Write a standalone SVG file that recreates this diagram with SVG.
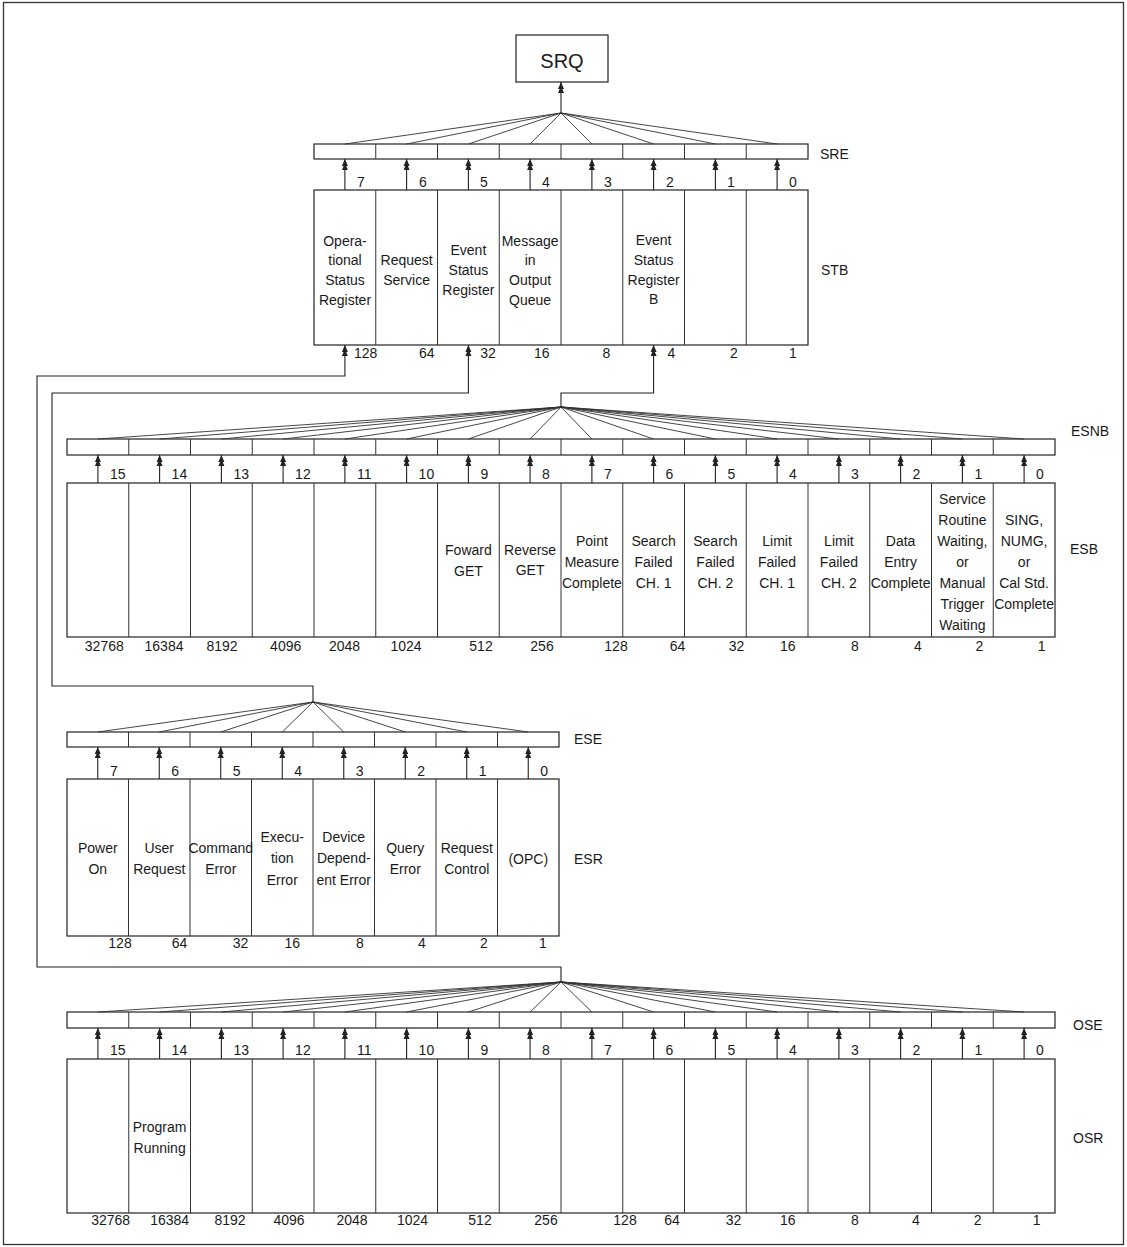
<svg xmlns="http://www.w3.org/2000/svg" width="1127" height="1247" viewBox="0 0 1127 1247">
<style>
.frame{fill:#fff;stroke:#333;stroke-width:1.3}
.box{fill:#fff;stroke:#222;stroke-width:1.2}
.div{stroke:#333;stroke-width:1;fill:none}
.ln{stroke:#222;stroke-width:1.1;fill:none}
.fan{stroke:#333;stroke-width:0.9;fill:none}
.arr{stroke:#222;stroke-width:1.1;fill:none;marker-end:url(#ah)}
.t{font-family:"Liberation Sans",Arial,Helvetica,sans-serif;font-size:14px;fill:#1a1a1a}
.m{text-anchor:middle}
.big{font-size:20px}
</style>
<defs>
<marker id="ah" viewBox="0 -3.5 11 7" refX="11" refY="0" markerWidth="11" markerHeight="7" markerUnits="userSpaceOnUse" orient="auto">
<path d="M11,0 L4,-3 L4,3 Z M7,0 L0,-3 L0,3 Z" fill="#222"/>
</marker>
</defs>
<rect class="frame" x="3.5" y="2.5" width="1120" height="1242"/>

<g id="SRQ">
<rect class="box" x="516" y="35" width="92" height="47"/>
<text class="t m big" x="562" y="68">SRQ</text>
</g>

<g id="SRE">
<rect class="box" x="314" y="144" width="494" height="15"/>
<path class="div" d="M375.75 144V159M437.5 144V159M499.25 144V159M561 144V159M622.75 144V159M684.5 144V159M746.25 144V159"/>
<text class="t" x="820" y="159">SRE</text>
<g class="t">
<text x="357" y="187">7</text><text x="419" y="187">6</text><text x="480" y="187">5</text><text x="542" y="187">4</text>
<text x="604" y="187">3</text><text x="666" y="187">2</text><text x="727" y="187">1</text><text x="789" y="187">0</text>
</g>
</g>

<g id="STB">
<rect class="box" x="314" y="190" width="494" height="155"/>
<path class="div" d="M375.75 190V345M437.5 190V345M499.25 190V345M561 190V345M622.75 190V345M684.5 190V345M746.25 190V345"/>
<g class="t m">
<text x="345" y="246">Opera-</text><text x="345" y="265">tional</text><text x="345" y="285">Status</text><text x="345" y="305">Register</text>
<text x="406.6" y="265">Request</text><text x="406.6" y="285">Service</text>
<text x="468.4" y="255">Event</text><text x="468.4" y="275">Status</text><text x="468.4" y="295">Register</text>
<text x="530.1" y="246">Message</text><text x="530.1" y="265">in</text><text x="530.1" y="285">Output</text><text x="530.1" y="305">Queue</text>
<text x="653.6" y="245">Event</text><text x="653.6" y="265">Status</text><text x="653.6" y="285">Register</text><text x="653.6" y="304">B</text>
<text x="365.7" y="358">128</text><text x="426.8" y="358">64</text><text x="488" y="358">32</text><text x="541.8" y="358">16</text>
<text x="606.4" y="358">8</text><text x="671.4" y="358">4</text><text x="734" y="358">2</text><text x="792.9" y="358">1</text>
</g>
<text class="t" x="821" y="275">STB</text>
</g>

<g id="ESNB">
<rect class="box" x="67" y="439" width="988" height="16"/>
<path class="div" d="M128.75 439V455M190.5 439V455M252.25 439V455M314 439V455M375.75 439V455M437.5 439V455M499.25 439V455M561 439V455M622.75 439V455M684.5 439V455M746.25 439V455M808 439V455M869.75 439V455M931.5 439V455M993.25 439V455"/>
<text class="t" x="1071" y="436">ESNB</text>
<g class="t">
<text x="110" y="479">15</text><text x="171.6" y="479">14</text><text x="233.4" y="479">13</text><text x="295.1" y="479">12</text>
<text x="356.9" y="479">11</text><text x="418.6" y="479">10</text><text x="480.4" y="479">9</text><text x="542.1" y="479">8</text>
<text x="603.9" y="479">7</text><text x="665.6" y="479">6</text><text x="727.4" y="479">5</text><text x="789.1" y="479">4</text>
<text x="850.9" y="479">3</text><text x="912.6" y="479">2</text><text x="974.4" y="479">1</text><text x="1036.1" y="479">0</text>
</g>
</g>

<g id="ESB">
<rect class="box" x="67" y="483" width="988" height="154"/>
<path class="div" d="M128.75 483V637M190.5 483V637M252.25 483V637M314 483V637M375.75 483V637M437.5 483V637M499.25 483V637M561 483V637M622.75 483V637M684.5 483V637M746.25 483V637M808 483V637M869.75 483V637M931.5 483V637M993.25 483V637"/>
<g class="t m">
<text x="468.4" y="555">Foward</text><text x="468.4" y="576">GET</text>
<text x="530.1" y="555">Reverse</text><text x="530.1" y="575">GET</text>
<text x="591.9" y="546">Point</text><text x="591.9" y="567">Measure</text><text x="591.9" y="588">Complete</text>
<text x="653.6" y="546">Search</text><text x="653.6" y="567">Failed</text><text x="653.6" y="588">CH. 1</text>
<text x="715.4" y="546">Search</text><text x="715.4" y="567">Failed</text><text x="715.4" y="588">CH. 2</text>
<text x="777.1" y="546">Limit</text><text x="777.1" y="567">Failed</text><text x="777.1" y="588">CH. 1</text>
<text x="838.9" y="546">Limit</text><text x="838.9" y="567">Failed</text><text x="838.9" y="588">CH. 2</text>
<text x="900.6" y="546">Data</text><text x="900.6" y="567">Entry</text><text x="900.6" y="588">Complete</text>
<text x="962.4" y="504">Service</text><text x="962.4" y="525">Routine</text><text x="962.4" y="546">Waiting,</text><text x="962.4" y="567">or</text><text x="962.4" y="588">Manual</text><text x="962.4" y="609">Trigger</text><text x="962.4" y="630">Waiting</text>
<text x="1024.1" y="525">SING,</text><text x="1024.1" y="546">NUMG,</text><text x="1024.1" y="567">or</text><text x="1024.1" y="588">Cal Std.</text><text x="1024.1" y="609">Complete</text>
<text x="104.3" y="651">32768</text><text x="164" y="651">16384</text><text x="222" y="651">8192</text><text x="285.7" y="651">4096</text>
<text x="344.6" y="651">2048</text><text x="406" y="651">1024</text><text x="481" y="651">512</text><text x="542" y="651">256</text>
<text x="616" y="651">128</text><text x="677.5" y="651">64</text><text x="736.5" y="651">32</text><text x="787.8" y="651">16</text>
<text x="854.8" y="651">8</text><text x="918" y="651">4</text><text x="979.5" y="651">2</text><text x="1041.7" y="651">1</text>
</g>
<text class="t" x="1070" y="554">ESB</text>
</g>

<g id="ESE">
<rect class="box" x="67" y="732" width="492" height="15"/>
<path class="div" d="M128.5 732V747M190 732V747M251.5 732V747M313 732V747M374.5 732V747M436 732V747M497.5 732V747"/>
<text class="t" x="574" y="744">ESE</text>
<g class="t">
<text x="110" y="776">7</text><text x="171.2" y="776">6</text><text x="232.7" y="776">5</text><text x="294.2" y="776">4</text>
<text x="355.7" y="776">3</text><text x="417.2" y="776">2</text><text x="478.7" y="776">1</text><text x="540.2" y="776">0</text>
</g>
</g>

<g id="ESR">
<rect class="box" x="67" y="779" width="492" height="157"/>
<path class="div" d="M128.5 779V936M190 779V936M251.5 779V936M313 779V936M374.5 779V936M436 779V936M497.5 779V936"/>
<g class="t m">
<text x="97.75" y="853">Power</text><text x="97.75" y="874">On</text>
<text x="159.25" y="853">User</text><text x="159.25" y="874">Request</text>
<text x="220.75" y="853">Command</text><text x="220.75" y="874">Error</text>
<text x="282.25" y="842">Execu-</text><text x="282.25" y="863">tion</text><text x="282.25" y="885">Error</text>
<text x="343.75" y="842">Device</text><text x="343.75" y="863">Depend-</text><text x="343.75" y="885">ent Error</text>
<text x="405.25" y="853">Query</text><text x="405.25" y="874">Error</text>
<text x="466.75" y="853">Request</text><text x="466.75" y="874">Control</text>
<text x="528.25" y="864">(OPC)</text>
<text x="120" y="948">128</text><text x="179.5" y="948">64</text><text x="240.5" y="948">32</text><text x="292.3" y="948">16</text>
<text x="360" y="948">8</text><text x="422" y="948">4</text><text x="484" y="948">2</text><text x="543" y="948">1</text>
</g>
<text class="t" x="574" y="864">ESR</text>
</g>

<g id="OSE">
<rect class="box" x="67" y="1012" width="988" height="16"/>
<path class="div" d="M128.75 1012V1028M190.5 1012V1028M252.25 1012V1028M314 1012V1028M375.75 1012V1028M437.5 1012V1028M499.25 1012V1028M561 1012V1028M622.75 1012V1028M684.5 1012V1028M746.25 1012V1028M808 1012V1028M869.75 1012V1028M931.5 1012V1028M993.25 1012V1028"/>
<text class="t" x="1073" y="1030">OSE</text>
<g class="t">
<text x="110" y="1055">15</text><text x="171.6" y="1055">14</text><text x="233.4" y="1055">13</text><text x="295.1" y="1055">12</text>
<text x="356.9" y="1055">11</text><text x="418.6" y="1055">10</text><text x="480.4" y="1055">9</text><text x="542.1" y="1055">8</text>
<text x="603.9" y="1055">7</text><text x="665.6" y="1055">6</text><text x="727.4" y="1055">5</text><text x="789.1" y="1055">4</text>
<text x="850.9" y="1055">3</text><text x="912.6" y="1055">2</text><text x="974.4" y="1055">1</text><text x="1036.1" y="1055">0</text>
</g>
</g>

<g id="OSR">
<rect class="box" x="67" y="1059" width="988" height="154"/>
<path class="div" d="M128.75 1059V1213M190.5 1059V1213M252.25 1059V1213M314 1059V1213M375.75 1059V1213M437.5 1059V1213M499.25 1059V1213M561 1059V1213M622.75 1059V1213M684.5 1059V1213M746.25 1059V1213M808 1059V1213M869.75 1059V1213M931.5 1059V1213M993.25 1059V1213"/>
<g class="t m">
<text x="159.6" y="1132">Program</text><text x="159.6" y="1153">Running</text>
<text x="110.7" y="1225">32768</text><text x="169.6" y="1225">16384</text><text x="230" y="1225">8192</text><text x="289" y="1225">4096</text>
<text x="352" y="1225">2048</text><text x="412.5" y="1225">1024</text><text x="480" y="1225">512</text><text x="546" y="1225">256</text>
<text x="625" y="1225">128</text><text x="672" y="1225">64</text><text x="733.6" y="1225">32</text><text x="787.8" y="1225">16</text>
<text x="854.8" y="1225">8</text><text x="916" y="1225">4</text><text x="977.7" y="1225">2</text><text x="1036.7" y="1225">1</text>
</g>
<text class="t" x="1073" y="1143">OSR</text>
</g>

<g id="connectors">
<!-- SRE fan to SRQ -->
<path class="fan" d="M561 113L344.9 144M561 113L406.6 144M561 113L468.4 144M561 113L530.1 144M561 113L591.9 144M561 113L653.6 144M561 113L715.4 144M561 113L777.1 144"/>
<path class="arr" d="M561 113V82"/>
<!-- STB bits to SRE -->
<path class="arr" d="M344.9 190V159"/><path class="arr" d="M406.6 190V159"/><path class="arr" d="M468.4 190V159"/><path class="arr" d="M530.1 190V159"/>
<path class="arr" d="M591.9 190V159"/><path class="arr" d="M653.6 190V159"/><path class="arr" d="M715.4 190V159"/><path class="arr" d="M777.1 190V159"/>
<!-- ESNB fan -->
<path class="fan" d="M561 407L97.9 439M561 407L159.6 439M561 407L221.4 439M561 407L283.1 439M561 407L344.9 439M561 407L406.6 439M561 407L468.4 439M561 407L530.1 439M561 407L591.9 439M561 407L653.6 439M561 407L715.4 439M561 407L777.1 439M561 407L838.9 439M561 407L900.6 439M561 407L962.4 439M561 407L1024.1 439"/>
<path class="arr" d="M561 407V393H653.6V345"/>
<!-- ESB bits to ESNB -->
<path class="arr" d="M97.9 483V455"/><path class="arr" d="M159.6 483V455"/><path class="arr" d="M221.4 483V455"/><path class="arr" d="M283.1 483V455"/>
<path class="arr" d="M344.9 483V455"/><path class="arr" d="M406.6 483V455"/><path class="arr" d="M468.4 483V455"/><path class="arr" d="M530.1 483V455"/>
<path class="arr" d="M591.9 483V455"/><path class="arr" d="M653.6 483V455"/><path class="arr" d="M715.4 483V455"/><path class="arr" d="M777.1 483V455"/>
<path class="arr" d="M838.9 483V455"/><path class="arr" d="M900.6 483V455"/><path class="arr" d="M962.4 483V455"/><path class="arr" d="M1024.1 483V455"/>
<!-- ESE fan -->
<path class="fan" d="M313 702L97.75 732M313 702L159.25 732M313 702L220.75 732M313 702L282.25 732M313 702L343.75 732M313 702L405.25 732M313 702L466.75 732M313 702L528.25 732"/>
<path class="arr" d="M313 702V686H52V393H468.4V345"/>
<!-- ESR bits to ESE -->
<path class="arr" d="M97.75 779V747"/><path class="arr" d="M159.25 779V747"/><path class="arr" d="M220.75 779V747"/><path class="arr" d="M282.25 779V747"/>
<path class="arr" d="M343.75 779V747"/><path class="arr" d="M405.25 779V747"/><path class="arr" d="M466.75 779V747"/><path class="arr" d="M528.25 779V747"/>
<!-- OSE fan -->
<path class="fan" d="M561 982L97.9 1012M561 982L159.6 1012M561 982L221.4 1012M561 982L283.1 1012M561 982L344.9 1012M561 982L406.6 1012M561 982L468.4 1012M561 982L530.1 1012M561 982L591.9 1012M561 982L653.6 1012M561 982L715.4 1012M561 982L777.1 1012M561 982L838.9 1012M561 982L900.6 1012M561 982L962.4 1012M561 982L1024.1 1012"/>
<path class="arr" d="M561 982V967H37V376H344.9V345"/>
<!-- OSR bits to OSE -->
<path class="arr" d="M97.9 1059V1028"/><path class="arr" d="M159.6 1059V1028"/><path class="arr" d="M221.4 1059V1028"/><path class="arr" d="M283.1 1059V1028"/>
<path class="arr" d="M344.9 1059V1028"/><path class="arr" d="M406.6 1059V1028"/><path class="arr" d="M468.4 1059V1028"/><path class="arr" d="M530.1 1059V1028"/>
<path class="arr" d="M591.9 1059V1028"/><path class="arr" d="M653.6 1059V1028"/><path class="arr" d="M715.4 1059V1028"/><path class="arr" d="M777.1 1059V1028"/>
<path class="arr" d="M838.9 1059V1028"/><path class="arr" d="M900.6 1059V1028"/><path class="arr" d="M962.4 1059V1028"/><path class="arr" d="M1024.1 1059V1028"/>
</g>
</svg>
